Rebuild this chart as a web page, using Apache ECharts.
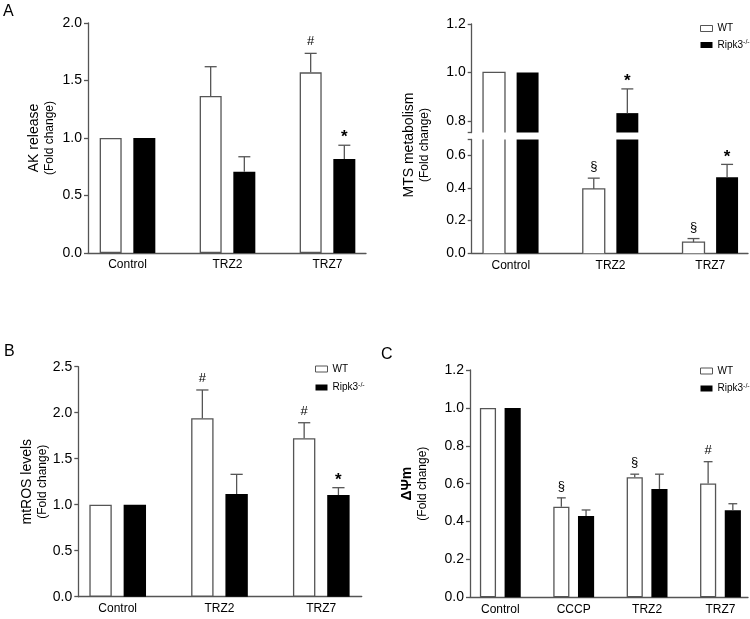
<!DOCTYPE html>
<html>
<head>
<meta charset="utf-8">
<script src="https://cdn.jsdelivr.net/npm/echarts@6/dist/echarts.min.js"></script>
<style>html,body{margin:0;padding:0;background:#fff}#c{width:750px;height:619px}</style>
</head>
<body>
<div id="c"></div>
<script>
// ---------- DATA ----------
const catsA = ['Control', 'TRZ2', 'TRZ7'];
const catsC = ['Control', 'CCCP', 'TRZ2', 'TRZ7'];
const seriesNames = ['WT', 'Ripk3-/-'];

// Panel A (top-left): AK release
const akWT = [1.0, 1.365, 1.571];
const akWTsem = [0, 0.255, 0.165];
const akKO = [1.0, 0.707, 0.817];
const akKOsem = [0, 0.13, 0.12];
const akWTann = ['', '', '#'];
const akKOann = ['', '', '*'];

// Panel A (top-right): MTS metabolism (broken axis)
const mtsWT = [1.0, 0.393, 0.068];
const mtsWTsem = [0, 0.066, 0.022];
const mtsKO = [1.0, 0.832, 0.465];
const mtsKOsem = [0, 0.10, 0.078];
const mtsWTann = ['', '§', '§'];
const mtsKOann = ['', '*', '*'];

// Panel B: mtROS levels
const rosWT = [1.0, 1.939, 1.722];
const rosWTsem = [0, 0.308, 0.169];
const rosKO = [1.0, 1.116, 1.105];
const rosKOsem = [0, 0.214, 0.08];
const rosWTann = ['', '#', '#'];
const rosKOann = ['', '', '*'];

// Panel C: ΔΨm
const psiWT = [1.0, 0.478, 0.634, 0.601];
const psiWTsem = [0, 0.047, 0.016, 0.115];
const psiKO = [1.0, 0.429, 0.572, 0.459];
const psiKOsem = [0, 0.032, 0.078, 0.035];
const psiWTann = ['', '§', '§', '#'];
const psiKOann = ['', '', '', ''];

// tick values
const ticksMtsUpper = [0.8, 1.0, 1.2];
const ticksMtsLower = [0, 0.2, 0.4, 0.6];
const mtsBreak = [0.695, 0.752]; // lower axis top, upper axis bottom

// ---------- STYLE ----------
const FONT = 'Arial, "Liberation Sans", Helvetica, sans-serif';
const AX = '#555';
const BAR_W = 0.22;      // fraction of band
const BAR_GAP = 0.53;    // fraction of bar width
const OFFSET = BAR_W * (1 + BAR_GAP) / 2;
const CAP_HALF = 0.06;
const ANN_GAP = {'#': 5, '§': 5, '*': -1};
const ANN_STYLE = {
  '#': {fontSize: 13, fontWeight: 'normal'},
  '§': {fontSize: 13, fontWeight: 'normal'},
  '*': {fontSize: 17, fontWeight: 'bold'}
};

const fmt1 = v => Number(v).toFixed(1);

function xAxisFor(grid, cats, min, max, show) {
  return {
    type: 'value', gridIndex: grid, min: min, max: max, show: show !== false,
    splitLine: {show: false},
    axisLine: {show: true, onZero: false, lineStyle: {color: AX, width: 1.3}},
    axisTick: {show: false},
    axisLabel: {
      show: true, customValues: cats.map((c, i) => i), hideOverlap: false,
      formatter: v => cats[Math.round(v)], margin: 6,
      fontSize: 12, color: '#000', fontFamily: FONT
    }
  };
}

function yAxisFor(grid, opts) {
  const ax = {
    type: 'value', gridIndex: grid, min: opts.min, max: opts.max,
    splitLine: {show: false},
    axisLine: {show: true, onZero: false, lineStyle: {color: AX, width: 1.3}},
    axisTick: {show: true, length: 4, lineStyle: {color: AX, width: 1.3}},
    axisLabel: {show: true, formatter: fmt1, margin: 6, fontSize: 14, color: '#000', fontFamily: FONT, hideOverlap: false}
  };
  if (opts.interval != null) ax.interval = opts.interval;
  if (opts.labels) ax.axisLabel.customValues = opts.labels;
  if (opts.ticks) ax.axisTick.customValues = opts.ticks;
  if (opts.name) {
    ax.name = opts.name;
    ax.nameLocation = 'middle';
    ax.nameGap = opts.nameGap;
    ax.nameMoveOverlap = false;
    ax.nameTextStyle = {
      color: '#000',
      rich: {
        t: {fontSize: 14, lineHeight: 16, fontFamily: FONT, color: '#000', fontWeight: opts.bold ? 'bold' : 'normal'},
        s: {fontSize: 12, lineHeight: 15, fontFamily: FONT, color: '#000'}
      }
    };
  }
  return ax;
}

function barSeries(name, xi, yi, vals, isWT, noBorder) {
  return {
    type: 'bar', name: name, xAxisIndex: xi, yAxisIndex: yi,
    data: vals.map((v, i) => [i, v]),
    barWidth: (BAR_W * 100) + '%', barGap: (BAR_GAP * 100) + '%',
    clip: true, silent: true,
    itemStyle: isWT ? {color: '#fff', borderColor: AX, borderWidth: noBorder ? 0 : 1.3}
                    : {color: '#000', borderColor: '#000', borderWidth: 0}
  };
}

// open outline (left, top, right) of white bars on the broken axis, so the break stays open
function outlineSeries(name, xi, yi, vals, side, lo, hi) {
  return {
    type: 'custom', name: name, xAxisIndex: xi, yAxisIndex: yi, z: 4, silent: true,
    data: vals.map((v, i) => [i, v]),
    renderItem: function (params, api) {
      const i = api.value(0), v = api.value(1);
      if (v < lo) return {type: 'group', children: []};
      const xc = i + side * OFFSET;
      const xl = xc - BAR_W / 2, xr = xc + BAR_W / 2;
      const top = Math.min(v, hi);
      const pl0 = api.coord([xl, lo]), pl1 = api.coord([xl, top]);
      const pr0 = api.coord([xr, lo]), pr1 = api.coord([xr, top]);
      const pts = v <= hi ? [pl0, pl1, pr1, pr0] : null;
      const ls = {stroke: AX, lineWidth: 1.3, fill: null};
      const children = pts
        ? [{type: 'polyline', shape: {points: pts}, style: ls}]
        : [{type: 'line', shape: {x1: pl0[0], y1: pl0[1], x2: pl1[0], y2: pl1[1]}, style: ls},
           {type: 'line', shape: {x1: pr0[0], y1: pr0[1], x2: pr1[0], y2: pr1[1]}, style: ls}];
      return {type: 'group', children: children};
    }
  };
}

function errSeries(name, xi, yi, vals, sems, anns, side, lo, hi) {
  return {
    type: 'custom', name: name, xAxisIndex: xi, yAxisIndex: yi, z: 5, silent: true,
    data: vals.map((v, i) => [i, v, v + sems[i]]),
    renderItem: function (params, api) {
      const i = api.value(0), m = api.value(1), e = api.value(2);
      const children = [];
      if ((lo != null && m < lo) || (hi != null && e > hi)) return {type: 'group', children: children};
      const x = i + side * OFFSET;
      const pm = api.coord([x, m]);
      const pe = api.coord([x, e]);
      const half = api.size([CAP_HALF, 0])[0];
      const ls = {stroke: AX, lineWidth: 1.3};
      if (e > m) {
        children.push({type: 'line', shape: {x1: pm[0], y1: pm[1], x2: pe[0], y2: pe[1]}, style: ls});
        children.push({type: 'line', shape: {x1: pe[0] - half, y1: pe[1], x2: pe[0] + half, y2: pe[1]}, style: ls});
      }
      const a = anns[params.dataIndex];
      if (a) {
        children.push({
          type: 'text', x: pe[0], y: pe[1] - ANN_GAP[a],
          style: {text: a, align: 'center', verticalAlign: 'bottom', fill: '#000',
                  fontFamily: FONT, fontSize: ANN_STYLE[a].fontSize, fontWeight: ANN_STYLE[a].fontWeight}
        });
      }
      return {type: 'group', children: children};
    }
  };
}

function legendAt(left, top, gap) {
  return {
    orient: 'vertical', left: left, top: top, itemWidth: 12, itemHeight: 6, itemGap: gap,
    padding: 0, selectedMode: false, icon: 'rect',
    formatter: n => n === 'WT' ? 'WT' : 'Ripk3{sup|-/-}',
    textStyle: {
      fontSize: 10, color: '#000', fontFamily: FONT, lineHeight: 12,
      rich: {sup: {fontSize: 7, verticalAlign: 'top', lineHeight: 12, color: '#000', fontFamily: FONT}}
    },
    data: [
      {name: seriesNames[0], itemStyle: {color: '#fff', borderColor: AX, borderWidth: 1}},
      {name: seriesNames[1], itemStyle: {color: '#000', borderColor: '#000', borderWidth: 0}}
    ]
  };
}

const titleStyle = {fontSize: 16, fontWeight: 'normal', color: '#000', fontFamily: FONT};

const option = {
  backgroundColor: '#fff',
  animation: false,
  title: [
    {text: 'A', left: 3, top: 4, padding: 0, textStyle: titleStyle},
    {text: 'B', left: 4, top: 344, padding: 0, textStyle: titleStyle},
    {text: 'C', left: 381, top: 347, padding: 0, textStyle: titleStyle}
  ],
  legend: [legendAt(700, 22.5, 4.5), legendAt(315, 363, 6.5), legendAt(700, 365, 5.5)],
  grid: [
    {left: 88, top: 23, width: 278, height: 230, outerBoundsMode: 'none'},        // 0 AK
    {left: 471.7, top: 24, width: 276.3, height: 108.5, outerBoundsMode: 'none'}, // 1 MTS upper
    {left: 471.7, top: 139.5, width: 276.3, height: 113.8, outerBoundsMode: 'none'}, // 2 MTS lower
    {left: 78.3, top: 366.7, width: 283.4, height: 230, outerBoundsMode: 'none'}, // 3 ROS
    {left: 470, top: 370, width: 278, height: 227.3, outerBoundsMode: 'none'},    // 4 PSI
    {left: 471.7, top: 30, width: 276.3, height: 230, outerBoundsMode: 'none'}    // 5 MTS name holder
  ],
  xAxis: [
    xAxisFor(0, catsA, -0.395, 2.385),
    xAxisFor(1, catsA, -0.392, 2.378, false),
    xAxisFor(2, catsA, -0.392, 2.378),
    xAxisFor(3, catsA, -0.387, 2.397),
    xAxisFor(4, catsC, -0.413, 3.375),
    {type: 'value', gridIndex: 5, show: false, min: 0, max: 1}
  ],
  yAxis: [
    yAxisFor(0, {min: 0, max: 2, interval: 0.5, name: '{t|AK release}\n{s|(Fold change)}', nameGap: 31}),
    yAxisFor(1, {min: mtsBreak[1], max: 1.2, labels: ticksMtsUpper, ticks: ticksMtsUpper.concat([mtsBreak[1]])}),
    yAxisFor(2, {min: 0, max: mtsBreak[0], labels: ticksMtsLower, ticks: ticksMtsLower.concat([mtsBreak[0]])}),
    yAxisFor(3, {min: 0, max: 2.5, interval: 0.5, name: '{t|mtROS levels}\n{s|(Fold change)}', nameGap: 28}),
    yAxisFor(4, {min: 0, max: 1.2, interval: 0.2, name: '{t|ΔΨm}\n{s|(Fold change)}', nameGap: 40, bold: true}),
    {type: 'value', gridIndex: 5, min: 0, max: 1, splitLine: {show: false},
     axisLine: {show: false}, axisTick: {show: false}, axisLabel: {show: false},
     name: '{t|MTS metabolism}\n{s|(Fold change)}', nameLocation: 'middle', nameGap: 40, nameMoveOverlap: false,
     nameTextStyle: {color: '#000', rich: {
       t: {fontSize: 14, lineHeight: 16, fontFamily: FONT, color: '#000'},
       s: {fontSize: 12, lineHeight: 15, fontFamily: FONT, color: '#000'}}}}
  ],
  series: [
    barSeries(seriesNames[0], 0, 0, akWT, true),
    barSeries(seriesNames[1], 0, 0, akKO, false),
    errSeries(seriesNames[0], 0, 0, akWT, akWTsem, akWTann, -1),
    errSeries(seriesNames[1], 0, 0, akKO, akKOsem, akKOann, 1),

    barSeries(seriesNames[0], 1, 1, mtsWT, true, true),
    barSeries(seriesNames[1], 1, 1, mtsKO, false),
    outlineSeries(seriesNames[0], 1, 1, mtsWT, -1, mtsBreak[1], 1.2),
    errSeries(seriesNames[0], 1, 1, mtsWT, mtsWTsem, mtsWTann, -1, mtsBreak[1], null),
    errSeries(seriesNames[1], 1, 1, mtsKO, mtsKOsem, mtsKOann, 1, mtsBreak[1], null),
    barSeries(seriesNames[0], 2, 2, mtsWT, true, true),
    barSeries(seriesNames[1], 2, 2, mtsKO, false),
    outlineSeries(seriesNames[0], 2, 2, mtsWT, -1, 0, mtsBreak[0]),
    errSeries(seriesNames[0], 2, 2, mtsWT, mtsWTsem, mtsWTann, -1, null, mtsBreak[0]),
    errSeries(seriesNames[1], 2, 2, mtsKO, mtsKOsem, mtsKOann, 1, null, mtsBreak[0]),

    barSeries(seriesNames[0], 3, 3, rosWT, true),
    barSeries(seriesNames[1], 3, 3, rosKO, false),
    errSeries(seriesNames[0], 3, 3, rosWT, rosWTsem, rosWTann, -1),
    errSeries(seriesNames[1], 3, 3, rosKO, rosKOsem, rosKOann, 1),

    barSeries(seriesNames[0], 4, 4, psiWT, true),
    barSeries(seriesNames[1], 4, 4, psiKO, false),
    errSeries(seriesNames[0], 4, 4, psiWT, psiWTsem, psiWTann, -1),
    errSeries(seriesNames[1], 4, 4, psiKO, psiKOsem, psiKOann, 1)
  ]
};

const chart = echarts.init(document.getElementById('c'), null, {renderer: 'canvas'});
chart.setOption(option);
</script>
</body>
</html>
